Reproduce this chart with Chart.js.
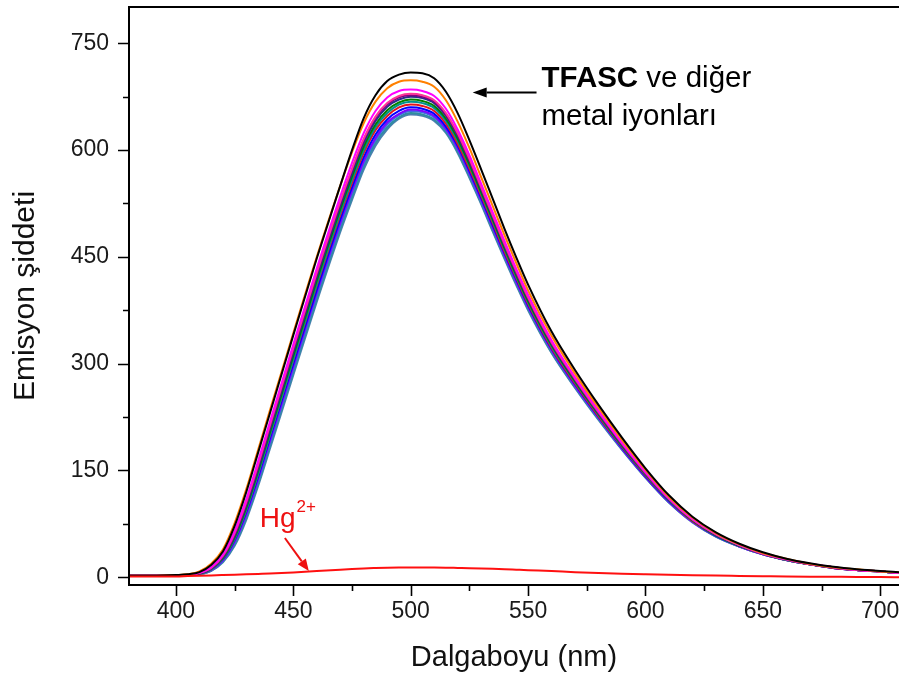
<!DOCTYPE html>
<html>
<head>
<meta charset="utf-8">
<script src="https://cdn.jsdelivr.net/npm/chart.js@4.4.1/dist/chart.umd.min.js"></script>
<style>
  html, body { margin: 0; padding: 0; background: #ffffff; }
  #wrap { position: relative; width: 899px; height: 679px; }
</style>
</head>
<body>
<div id="wrap"><canvas id="c"></canvas></div>
<script>
// ---- data ----
const WAVELENGTH = [380,390,400,405,410,415,420,425,430,435,440,450,460,470,475,480,485,490,495,500,505,510,515,520,525,530,535,540,545,550,560,570,580,590,600,610,620,630,640,650,660,670,680,690,700,708];

const TFASC       = [2,2,3,4,7,17,36,72,120,175,230,340,448,550,600,645,677,697,706,709, 708,701,682,652,614,573,531,489,449,411,345,291,242,196,153,115,85,63,47,35,26,19.5,14.5,11,8.5,7];
const ION_ORANGE  = [2,2,3,4,8,19,39,76,124,179,234,343,450,550,597,638,668,687,696,698, 696,689,670,640,603,562,521,480,441,403,339,286,238,193,151,113,84,62,46,34,26,19,14,11,8,7];
const ION_MAGENTA = [2,2,3,3,6,14,32,65,110,163,218,327,434,535,582,624,655,674,683,685, 683,676,658,629,593,553,512,472,433,397,333,281,234,189,148,111,82,61,45,34,25,19,14,10,8,6];
const ION_PINK    = [2,2,3,3,6,13,30,62,106,158,213,322,428,528,574,616,647,666,676,679, 677,670,652,624,588,548,508,468,430,393,330,279,232,188,147,110,81,60,45,33,25,18,14,10,8,6];
const ION_PURPLE  = [2,2,3,3,6,13,29,60,104,156,211,320,426,526,572,614,645,664,674,677, 675,668,650,622,586,547,507,467,428,392,329,278,231,187,146,110,81,60,45,33,25,18,14,10,8,6];
const ION_NAVY    = [2,2,3,3,5,12,28,58,101,152,207,316,422,522,568,610,641,661,671,675, 673,666,648,620,584,545,505,465,427,391,328,277,230,186,146,109,81,60,45,33,25,18,14,10,8,6];
const ION_GREEN   = [2,2,3,3,5,12,27,56,98,149,203,311,417,517,563,605,636,656,667,671, 669,662,644,616,580,541,502,462,424,388,326,275,229,185,145,109,80,59,44,33,25,18,14,10,8,6];
const ION_CYAN    = [2,2,3,3,5,11,26,54,95,145,199,306,412,512,558,600,632,652,664,668, 666,659,641,613,578,539,500,460,422,386,324,274,228,184,144,108,80,59,44,33,24,18,14,10,8,6];
const ION_RED     = [2,2,3,3,5,11,26,54,95,145,199,305,410,509,554,596,628,648,660,664, 662,655,637,609,574,536,497,457,420,384,322,272,226,183,143,108,79,59,44,33,24,18,13,10,8,6];
const ION_BLUE    = [2,2,3,3,5,11,25,52,92,141,195,300,404,503,548,590,622,643,655,660, 658,651,633,606,571,533,494,455,418,382,321,271,225,182,142,107,79,58,44,33,24,18,13,10,8,6];
const ION_VIOLET  = [2,2,3,3,5,10,24,50,89,138,191,296,400,498,543,585,617,639,651,657, 655,648,630,603,568,530,491,452,415,380,319,269,224,181,141,106,78,58,43,32,24,18,13,10,8,6];
const ION_ROYAL   = [2,2,3,3,5,10,23,48,87,135,188,292,396,494,539,581,614,636,649,655, 653,646,628,601,566,528,490,451,414,379,318,268,223,180,141,106,78,58,43,32,24,18,13,10,8,6];
const ION_TEAL    = [2,2,3,3,4,9,22,46,84,131,184,288,391,489,534,577,610,632,646,652, 650,643,626,598,563,526,487,449,412,377,316,267,222,180,140,105,78,57,43,32,24,18,13,10,8,6];
const ION_STEEL   = [2,2,3,3,4,9,21,44,81,128,180,284,387,485,530,573,606,629,644,650, 648,641,624,596,561,524,485,447,410,375,315,266,221,179,140,105,77,57,43,32,24,18,13,10,8,6];
const HG          = [1,1,1,1.5,2,2.5,3,3.5,4,4.5,5,6.5,8.5,10.5,11.5,12.3,12.8,13.2,13.5,13.6, 13.6,13.5,13.3,13,12.7,12.3,11.8,11.2,10.5,9.8,8.5,7,5.8,4.8,4,3.3,2.7,2.2,1.8,1.4,1,0.7,0.5,0.3,0.2,0];

const X_TICKS = [400,450,500,550,600,650,700];
const Y_TICKS = [0,150,300,450,600,750];
const X_MIN = 380, X_MAX = 708, Y_MIN = -11, Y_MAX = 801;

// ---- styles ----
const SERIES = [
  { label: 'Hg2+',    data: HG,          color: '#ff1010' },
  { label: 'TFASC',   data: TFASC,       color: '#000000' },
  { label: 'orange',  data: ION_ORANGE,  color: '#ff8000' },
  { label: 'magenta', data: ION_MAGENTA, color: '#ff00ff' },
  { label: 'pink',    data: ION_PINK,    color: '#ff3399' },
  { label: 'purple',  data: ION_PURPLE,  color: '#800080' },
  { label: 'navy',    data: ION_NAVY,    color: '#2a2a8c' },
  { label: 'green',   data: ION_GREEN,   color: '#008000' },
  { label: 'cyan',    data: ION_CYAN,    color: '#009090' },
  { label: 'red',     data: ION_RED,     color: '#e3141c' },
  { label: 'blue',    data: ION_BLUE,    color: '#0000ff' },
  { label: 'violet',  data: ION_VIOLET,  color: '#8000ff' },
  { label: 'royal',   data: ION_ROYAL,   color: '#4169e1' },
  { label: 'teal',    data: ION_TEAL,    color: '#2f8fa0' },
  { label: 'steel',   data: ION_STEEL,   color: '#4a7fb0' }
];

const FONT = '"Liberation Sans", Arial, Helvetica, sans-serif';

const datasets = SERIES.map(s => ({
  label: s.label,
  data: WAVELENGTH.map((x, i) => ({ x: x, y: s.data[i] })),
  borderColor: s.color,
  backgroundColor: s.color,
  borderWidth: 2,
  pointRadius: 0,
  fill: false,
  cubicInterpolationMode: 'monotone'
}));

const axesPlugin = {
  id: 'axesPlugin',
  afterDraw(chart) {
    const ctx = chart.ctx;
    const a = chart.chartArea;
    const xs = chart.scales.x, ys = chart.scales.y;
    ctx.save();
    ctx.strokeStyle = '#000';
    ctx.lineWidth = 2;
    ctx.beginPath();
    ctx.moveTo(a.left, a.top); ctx.lineTo(a.left, a.bottom);
    ctx.moveTo(a.left - 1, a.bottom); ctx.lineTo(a.right, a.bottom);
    ctx.moveTo(a.left - 1, a.top); ctx.lineTo(a.right, a.top);
    ctx.stroke();
    ctx.lineWidth = 1.6;
    ctx.beginPath();
    for (let i = 0; i < Y_TICKS.length; i++) {
      const py = Math.round(ys.getPixelForValue(Y_TICKS[i])) + 0.5;
      ctx.moveTo(a.left - 11, py); ctx.lineTo(a.left, py);
      if (i < Y_TICKS.length - 1) {
        const my = Math.round(ys.getPixelForValue((Y_TICKS[i] + Y_TICKS[i+1]) / 2)) + 0.5;
        ctx.moveTo(a.left - 6, my); ctx.lineTo(a.left, my);
      }
    }
    for (let i = 0; i < X_TICKS.length; i++) {
      const px = Math.round(xs.getPixelForValue(X_TICKS[i])) + 0.5;
      ctx.moveTo(px, a.bottom); ctx.lineTo(px, a.bottom + 11);
      if (i < X_TICKS.length - 1) {
        const mx = Math.round(xs.getPixelForValue((X_TICKS[i] + X_TICKS[i+1]) / 2)) + 0.5;
        ctx.moveTo(mx, a.bottom); ctx.lineTo(mx, a.bottom + 6);
      }
    }
    ctx.stroke();
    ctx.restore();
  }
};

function arrow(ctx, x1, y1, x2, y2, color, headLen, headHalf, lw) {
  const ang = Math.atan2(y2 - y1, x2 - x1);
  const bx = x2 - headLen * Math.cos(ang), by = y2 - headLen * Math.sin(ang);
  ctx.save();
  ctx.strokeStyle = color; ctx.fillStyle = color; ctx.lineWidth = lw;
  ctx.beginPath(); ctx.moveTo(x1, y1); ctx.lineTo(bx, by); ctx.stroke();
  ctx.beginPath();
  ctx.moveTo(x2, y2);
  ctx.lineTo(bx + headHalf * Math.sin(ang), by - headHalf * Math.cos(ang));
  ctx.lineTo(bx - headHalf * Math.sin(ang), by + headHalf * Math.cos(ang));
  ctx.closePath(); ctx.fill();
  ctx.restore();
}

const notesPlugin = {
  id: 'notesPlugin',
  afterDraw(chart) {
    const ctx = chart.ctx;
    const xs = chart.scales.x, ys = chart.scales.y;
    const X = v => xs.getPixelForValue(v), Y = v => ys.getPixelForValue(v);
    ctx.save();
    ctx.fillStyle = '#000';
    ctx.textBaseline = 'alphabetic';
    ctx.textAlign = 'left';
    const tx = X(555.7), ty1 = Y(689), ty2 = Y(635);
    ctx.font = 'bold 29.5px ' + FONT;
    ctx.fillText('TFASC', tx, ty1);
    const w = ctx.measureText('TFASC').width;
    ctx.font = '29.5px ' + FONT;
    ctx.fillText(' ve diğer', tx + w, ty1);
    ctx.fillText('metal iyonları', tx, ty2);
    arrow(ctx, X(553.6), Y(681), X(526.4), Y(681), '#000', 14, 5, 2);
    ctx.fillStyle = '#ee1111';
    ctx.font = '28px ' + FONT;
    const hx = X(435.7), hy = Y(70);
    ctx.fillText('Hg', hx, hy);
    const hw = ctx.measureText('Hg').width;
    ctx.font = '17px ' + FONT;
    ctx.fillText('2+', hx + hw + 1, hy - 15);
    arrow(ctx, X(446.4), Y(55), X(456.6), Y(8.5), '#ee1111', 12, 5, 2);
    ctx.restore();
  }
};

new Chart(document.getElementById('c'), {
  type: 'line',
  data: { datasets: datasets },
  options: {
    responsive: true,
    maintainAspectRatio: false,
    animation: false,
    layout: { padding: { left: 0, right: 0, top: 7, bottom: 0 } },
    plugins: { legend: { display: false }, tooltip: { enabled: false } },
    scales: {
      x: {
        type: 'linear',
        min: X_MIN, max: X_MAX,
        afterBuildTicks: s => { s.ticks = X_TICKS.map(v => ({ value: v })); },
        afterFit: s => { s.height = 94; s.paddingLeft = 0; s.paddingRight = 0; },
        grid: { display: false, drawTicks: false, tickLength: 0 },
        border: { display: false },
        ticks: { color: '#1a1a1a', font: { family: FONT, size: 23 }, padding: 13, maxRotation: 0, autoSkip: false },
        title: { display: true, text: 'Dalgaboyu (nm)', color: '#111', font: { family: FONT, size: 29 }, padding: { top: 0, bottom: 4 } }
      },
      y: {
        type: 'linear',
        min: Y_MIN, max: Y_MAX,
        afterBuildTicks: s => { s.ticks = Y_TICKS.map(v => ({ value: v })); },
        afterFit: s => { s.width = 129; s.paddingTop = 0; s.paddingBottom = 0; },
        grid: { display: false, drawTicks: false, tickLength: 0 },
        border: { display: false },
        ticks: { color: '#1a1a1a', font: { family: FONT, size: 23 }, padding: 20, autoSkip: false },
        title: { display: true, text: 'Emisyon şiddeti', color: '#111', font: { family: FONT, size: 30 }, padding: { top: 8, bottom: 0 } }
      }
    }
  },
  plugins: [axesPlugin, notesPlugin]
});
</script>
</body>
</html>
